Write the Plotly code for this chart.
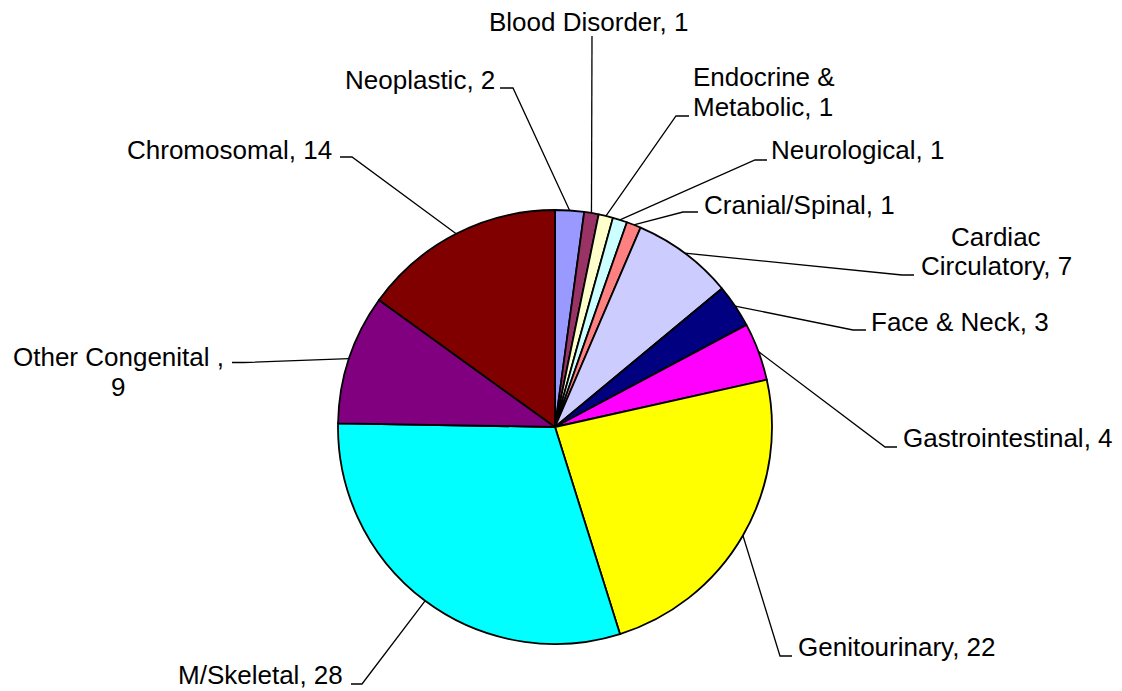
import math
import plotly.graph_objects as go

# ---- data ----
categories = ["Neoplastic", "Blood Disorder", "Endocrine &<br>Metabolic", "Neurological",
              "Cranial/Spinal", "Cardiac<br>Circulatory", "Face & Neck", "Gastrointestinal",
              "Genitourinary", "M/Skeletal", "Other Congenital ,<br>", "Chromosomal"]
values = [2, 1, 1, 1, 1, 7, 3, 4, 22, 28, 9, 14]
colors = ["#9999FF", "#993366", "#FFFFCC", "#CCFFFF", "#FF8080", "#CCCCFF",
          "#000080", "#FF00FF", "#FFFF00", "#00FFFF", "#800080", "#800000"]

# ---- layout constants (pixels, page coordinates) ----
W, H = 1122, 691
OFF = 8  # browser body margin
CX, CY, R = 555, 427, 217
LINE_GAP = 29
FONT = dict(family="Liberation Sans, Arial, sans-serif", size=26, color="black")

# label placement: text x, text y, xanchor, elbow x, elbow y, tick end x
label_layout = [
    (496, 80, "right", 513, 88, 500),
    (588, 22, "center", 592, 36, 592),
    (692, 92, "left", 676, 116, 689),
    (770, 150, "left", 755, 160, 767),
    (703, 205, "left", 683, 212, 698),
    (996, 252, "center", 902, 275, 914),
    (870, 322, "left", 853, 330, 866),
    (902, 438, "left", 885, 447, 897),
    (797, 647, "left", 780, 656, 792),
    (344, 675, "right", 362, 684, 351),
    (118, 372, "center", 244, 362.5, 232),
    (333, 150, "right", 352, 157, 340),
]


def px(x):
    return (x - OFF) / W


def py(y):
    return 1 - (y - OFF) / H


fig = go.Figure(go.Pie(
    labels=categories, values=values, sort=False, direction="clockwise", rotation=0,
    marker=dict(colors=colors, line=dict(color="black", width=1.8)),
    textinfo="none", hoverinfo="skip", showlegend=False,
    domain=dict(x=[px(CX - R), px(CX + R)], y=[py(CY + R), py(CY - R)]),
))

total = sum(values)
cum = 0
shapes = []
annotations = []
for cat, v, lay in zip(categories, values, label_layout):
    mid = (cum + v / 2) / total * 2 * math.pi
    cum += v
    rx = CX + R * math.sin(mid)
    ry = CY - R * math.cos(mid)
    tx, ty, anchor, ex, ey, kx = lay
    path = f"M {px(rx)},{py(ry)} L {px(ex)},{py(ey)} L {px(kx)},{py(ey)}"
    shapes.append(dict(type="path", path=path, xref="paper", yref="paper",
                       line=dict(color="black", width=1.3)))
    text = f"{cat}{v}" if cat.endswith("<br>") else f"{cat}, {v}"
    lines = text.split("<br>")
    n = len(lines)
    for i, ln in enumerate(lines):
        yy = ty + (i - (n - 1) / 2) * LINE_GAP
        annotations.append(dict(x=px(tx), y=py(yy), xref="paper", yref="paper",
                                text=ln, showarrow=False, xanchor=anchor, yanchor="middle",
                                borderpad=0, font=FONT))

fig.update_layout(width=W, height=H, autosize=False, margin=dict(l=0, r=0, t=0, b=0),
                  paper_bgcolor="white", plot_bgcolor="white",
                  shapes=shapes, annotations=annotations)
fig.write_html("out.html")
